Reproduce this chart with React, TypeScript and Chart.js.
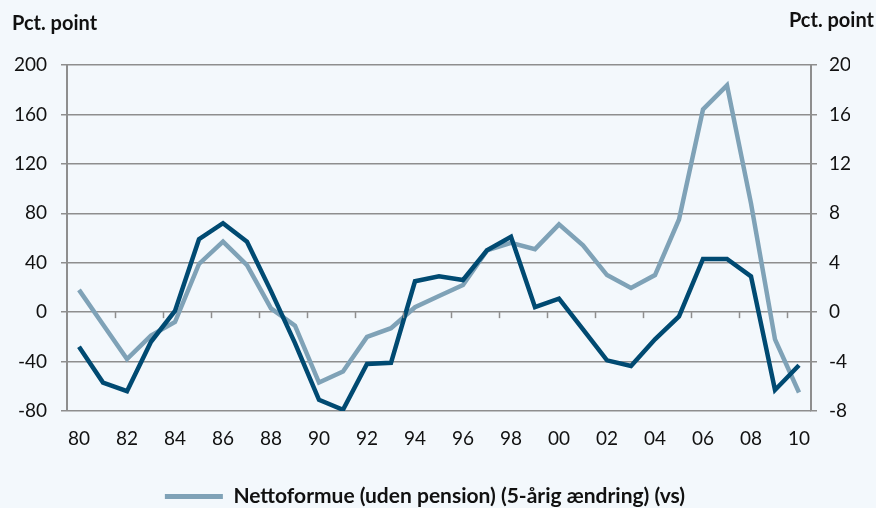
import React, { useEffect, useRef } from "react";
import { Chart, registerables } from "chart.js";

Chart.register(...registerables);

const years: string[] = [
  "80", "81", "82", "83", "84", "85", "86", "87", "88", "89",
  "90", "91", "92", "93", "94", "95", "96", "97", "98", "99",
  "00", "01", "02", "03", "04", "05", "06", "07", "08", "09", "10",
];
const tickYears: string[] = ["80", "82", "84", "86", "88", "90", "92", "94", "96", "98", "00", "02", "04", "06", "08", "10"];

// Nettoformue (uden pension) (5-årig ændring) (vs) — left axis
const nettoformue: number[] = [
  18, -10, -38, -19, -8, 39, 57, 38, 3, -11,
  -57, -48, -20, -13, 4, 13, 22, 50, 56, 51,
  71, 54, 30, 19.5, 30, 75, 164, 183.5, 88, -22, -65,
];
// Second series — right axis
const hoejreSerie: number[] = [
  -2.8, -5.7, -6.4, -2.4, 0.1, 5.9, 7.2, 5.7, 1.7, -2.5,
  -7.1, -7.9, -4.2, -4.1, 2.5, 2.9, 2.6, 5.0, 6.1, 0.4,
  1.1, -1.4, -3.9, -4.35, -2.2, -0.35, 4.3, 4.3, 2.9, -6.3, -4.3,
];

const LIGHT = "#7fa2b7";
const DARK = "#004a72";
const GRID = "#8e8e8e";
const BG = "#f3f8fc";
const FONT = "Lato, 'Open Sans', sans-serif";

const W = 876;
const H = 508;
const AREA_BOTTOM = 411;

export default function App() {
  const ref = useRef<HTMLCanvasElement | null>(null);

  useEffect(() => {
    document.body.style.margin = "0";
    document.body.style.background = BG;
    const canvas = ref.current;
    if (!canvas) return;

    const extras = {
      id: "extras",
      beforeDraw(chart: any) {
        const ctx = chart.ctx;
        ctx.save();
        ctx.fillStyle = BG;
        ctx.fillRect(0, 0, chart.width, chart.height);
        ctx.restore();
      },
      afterDraw(chart: any) {
        const ctx = chart.ctx;
        const x = chart.scales.x;
        const y = chart.scales.y;
        ctx.save();
        // tick marks on the zero line at every second category boundary
        const y0 = y.getPixelForValue(0);
        const half = (x.getPixelForValue(1) - x.getPixelForValue(0)) / 2;
        ctx.strokeStyle = GRID;
        ctx.lineWidth = 1.5;
        for (let i = 2; i < years.length; i += 2) {
          const px = Math.round(x.getPixelForValue(i) - half) + 0.5;
          ctx.beginPath();
          ctx.moveTo(px, y0);
          ctx.lineTo(px, y0 + 6);
          ctx.stroke();
        }
        // axis unit titles
        ctx.fillStyle = "#111";
        ctx.font = "bold 20px " + FONT;
        ctx.textBaseline = "middle";
        ctx.textAlign = "left";
        ctx.fillText("Pct. point", 12, 24);
        ctx.textAlign = "right";
        ctx.fillText("Pct. point", 874, 21);
        ctx.restore();
      },
    };

    const chart = new Chart(canvas, {
      type: "line",
      data: {
        labels: years,
        datasets: [
          {
            label: "Nettoformue (uden pension) (5-årig ændring) (vs)",
            data: nettoformue,
            borderColor: LIGHT,
            backgroundColor: LIGHT,
            borderWidth: 4.5,
            pointRadius: 0,
            tension: 0,
            yAxisID: "y",
            order: 2,
          },
          {
            label: "Højre akse",
            data: hoejreSerie,
            borderColor: DARK,
            backgroundColor: DARK,
            borderWidth: 4.5,
            pointRadius: 0,
            tension: 0,
            yAxisID: "y1",
            order: 1,
          },
        ],
      },
      options: {
        animation: false,
        responsive: false,
        maintainAspectRatio: false,
        layout: { padding: { top: 65, left: 0, right: 26, bottom: 0 } },
        plugins: {
          tooltip: { enabled: false },
          legend: {
            position: "bottom",
            maxHeight: 28,
            labels: {
              color: "#111",
              font: { family: FONT, size: 21, weight: "bold" },
              boxWidth: 58,
              boxHeight: 5,
              padding: 6,
              filter: (item: any) => item.datasetIndex === 0,
              generateLabels: (c: any) => {
                const base = (Chart.defaults.plugins.legend.labels as any).generateLabels(c);
                return base.map((l: any) => ({ ...l, lineWidth: 0, strokeStyle: "rgba(0,0,0,0)" }));
              },
            },
          },
        },
        scales: {
          x: {
            type: "category",
            offset: true,
            grid: { display: false, drawTicks: false },
            border: { display: false },
            ticks: {
              color: "#111",
              font: { family: FONT, size: 19 },
              padding: 16,
              autoSkip: false,
              maxRotation: 0,
              callback: (_v: any, i: number) => (tickYears.includes(years[i]) && i % 2 === 0 ? years[i] : ""),
            },
            afterFit: (s: any) => {
              const lh = s.chart.legend ? s.chart.legend.height : 0;
              s.height = H - AREA_BOTTOM - lh;
            },
          },
          y: {
            position: "left",
            min: -80,
            max: 200,
            ticks: {
              stepSize: 40,
              color: "#111",
              font: { family: FONT, size: 19 },
              padding: 14,
            },
            grid: { color: GRID, lineWidth: 1.5, tickLength: 6, drawTicks: true },
            border: { display: true, color: GRID, width: 2 },
            afterFit: (s: any) => { s.width = 67; },
          },
          y1: {
            position: "right",
            min: -8,
            max: 20,
            ticks: {
              stepSize: 4,
              color: "#111",
              font: { family: FONT, size: 19 },
              padding: 12,
            },
            grid: { color: GRID, lineWidth: 1.5, tickLength: 6, drawOnChartArea: false, drawTicks: true },
            border: { display: true, color: GRID, width: 2 },
            afterFit: (s: any) => { s.width = 39; },
          },
        },
      },
      plugins: [extras],
    });

    return () => chart.destroy();
  }, []);

  return (
    <div style={{ width: W, height: H, background: BG }}>
      <canvas ref={ref} width={W} height={H} style={{ display: "block" }} />
    </div>
  );
}
